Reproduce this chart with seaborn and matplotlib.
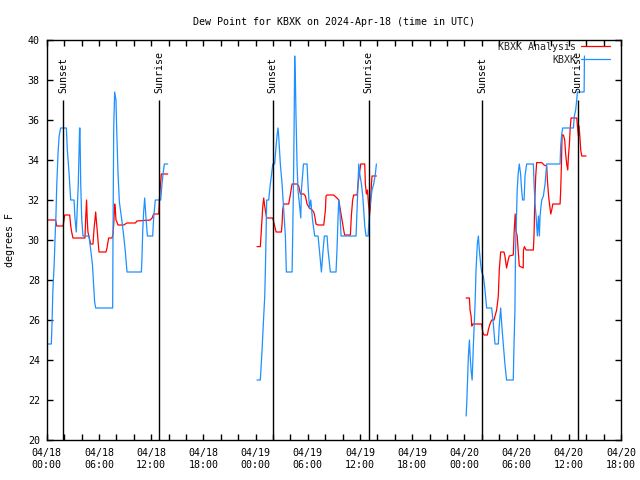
import numpy as np
import pandas as pd
import matplotlib
matplotlib.use("Agg")
import matplotlib.pyplot as plt
import matplotlib.dates as mdates
from matplotlib.lines import Line2D
import seaborn as sns

# ---------------- data (hours after 2024-04-18 00:00 UTC, values in deg F) ----------------
obs_h1 = [0.15, 0.53, 0.61, 0.71, 0.86, 0.96, 1.06, 1.16, 1.31, 1.43, 1.60, 2.26, 2.37, 2.56, 2.76,
          3.14, 3.25, 3.40, 3.63, 3.78, 3.82, 3.91, 4.02, 4.17, 4.86, 5.06, 5.25, 5.36, 5.51, 5.63,
          7.58, 7.62, 7.70, 7.81, 7.96, 8.04, 8.19, 8.35, 8.66, 8.85, 9.04, 9.23, 10.88, 10.95,
          11.03, 11.14, 11.26, 11.41, 11.57, 12.18, 12.29, 12.48, 13.10, 13.25, 13.37, 13.52, 13.91]
obs_v1 = [24.8, 24.8, 25.8, 27.5, 28.8, 30.1, 31.2, 32.8, 34.4, 35.2, 35.6, 35.6, 34.5, 33.4, 32.0,
          32.0, 31.1, 30.4, 32.8, 35.6, 35.6, 32.8, 31.1, 30.2, 30.2, 29.5, 28.8, 28.0, 26.9, 26.6,
          26.6, 30.2, 35.6, 37.4, 37.0, 35.6, 33.4, 31.9, 30.9, 30.2, 29.4, 28.4, 28.4, 29.1,
          30.4, 31.4, 32.1, 31.1, 30.2, 30.2, 31.1, 32.0, 32.0, 32.8, 33.3, 33.8, 33.8]

obs_h2 = [24.17, 24.55, 24.75, 24.94, 25.06, 25.13, 25.21, 25.28, 25.51, 25.70, 25.82, 25.98, 26.20,
          26.36, 26.47, 26.58, 26.66, 26.85, 27.05, 27.31, 27.43, 27.54, 28.20, 28.27, 28.35, 28.43,
          28.50, 28.58, 28.65, 28.77, 28.88, 29.20, 29.27, 29.51, 29.92, 30.05, 30.20, 30.35, 30.55,
          30.80, 31.18, 31.34, 31.57, 31.76, 31.91, 32.22, 32.33, 32.60, 33.25, 33.36, 33.49, 33.56,
          33.68, 33.83, 35.55, 35.71, 35.86, 35.98, 36.17, 36.32, 36.43, 36.55, 36.70, 36.94, 37.09,
          37.24, 37.39, 37.58, 37.77, 37.89]
obs_v2 = [23.0, 23.0, 24.5, 26.2, 27.2, 28.5, 30.2, 32.0, 32.0, 32.8, 33.2, 33.8, 33.8,
          34.7, 35.2, 35.6, 35.2, 33.8, 32.8, 31.0, 30.2, 28.4, 28.4, 30.2, 32.5, 35.5,
          39.2, 38.0, 36.2, 33.8, 32.5, 31.1, 32.5, 33.8, 33.8, 32.6, 31.6, 32.0, 31.0,
          30.2, 30.2, 29.5, 28.4, 29.5, 30.2, 30.2, 29.5, 28.4, 28.4, 29.5, 31.2, 32.0,
          31.5, 30.2, 30.2, 32.0, 33.8, 33.3, 32.8, 32.2, 31.5, 30.7, 30.2, 30.2, 31.5,
          32.0, 32.5, 32.8, 33.3, 33.8]

obs_h3 = [48.20, 48.27, 48.35, 48.46, 48.58, 48.65, 48.77, 48.89, 48.96, 49.04, 49.23, 49.34, 49.49,
          49.61, 49.72, 49.87, 49.99, 50.18, 50.37, 50.56, 51.14, 51.33, 51.52, 51.90, 52.01, 52.17,
          52.29, 52.47, 52.66, 52.85, 53.62, 53.69, 53.81, 53.88, 53.99, 54.07, 54.18, 54.31, 54.46,
          54.58, 54.69, 54.86, 54.97, 55.16, 55.93, 56.01, 56.12, 56.24, 56.39, 56.51, 56.62, 56.70,
          56.81, 56.89, 57.08, 57.27, 57.46, 59.00, 59.07, 59.19, 59.30, 60.53, 60.64, 60.79, 60.91,
          60.99, 61.76, 61.80]
obs_v3 = [21.2, 21.8, 22.8, 24.2, 25.0, 24.3, 23.5, 23.0, 23.8, 24.8, 26.8, 28.5, 29.8,
          30.2, 29.5, 28.8, 28.4, 28.2, 27.5, 26.6, 26.6, 25.8, 24.8, 24.8, 25.7, 26.6,
          25.8, 24.8, 23.8, 23.0, 23.0, 24.5, 26.5, 29.5, 31.2, 32.5, 33.3, 33.8, 33.3,
          32.5, 32.0, 32.0, 33.2, 33.8, 33.8, 32.8, 31.8, 31.2, 30.2, 31.2, 30.2, 31.2,
          31.7, 32.0, 32.2, 32.8, 33.8, 33.8, 34.7, 35.3, 35.6, 35.6, 36.2, 36.5, 37.0,
          37.4, 37.4, 39.2]

ana_h1 = [0.15, 1.03, 1.15, 1.88, 1.99, 2.07, 2.64, 2.76, 2.87, 3.02, 4.40, 4.47, 4.58, 4.66, 4.74,
          5.05, 5.32, 5.43, 5.63, 5.70, 5.82, 5.93, 6.01, 6.81, 6.93, 7.12, 7.51, 7.62, 7.73, 7.81,
          7.88, 7.96, 8.07, 8.19, 8.85, 9.04, 9.23, 10.19, 10.37, 11.91, 12.11, 12.29, 12.87, 12.95,
          13.06, 13.18, 13.91]
ana_v1 = [31.0, 31.0, 30.7, 30.7, 31.0, 31.25, 31.25, 30.7, 30.4, 30.1, 30.1, 31.0, 32.0, 31.0, 30.4,
          29.8, 29.8, 30.5, 31.4, 31.0, 30.4, 29.8, 29.4, 29.4, 29.6, 30.1, 30.1, 30.3, 31.0, 31.8,
          31.6, 31.0, 30.9, 30.75, 30.75, 30.8, 30.85, 30.85, 30.95, 31.0, 31.1, 31.3, 31.3, 32.0,
          32.7, 33.3, 33.3]

ana_h2 = [24.17, 24.55, 24.67, 24.83, 24.94, 25.06, 25.28, 25.98, 26.09, 26.36, 26.97, 27.05, 27.12,
          27.24, 27.81, 28.01, 28.20, 28.77, 28.96, 29.16, 29.54, 29.73, 29.92, 30.18, 30.50, 30.69,
          30.80, 30.95, 31.18, 31.84, 32.03, 32.10, 32.22, 32.98, 33.36, 33.56, 33.75, 33.94, 34.13,
          34.24, 34.90, 35.01, 35.16, 35.28, 35.67, 35.78, 35.93, 36.09, 36.55, 36.62, 36.74, 36.86,
          37.01, 37.09, 37.20, 37.32, 37.39, 37.89]
ana_v2 = [29.67, 29.67, 30.5, 31.67, 32.1, 31.67, 31.1, 31.1, 30.9, 30.4, 30.4, 30.8, 31.5,
          31.8, 31.8, 32.3, 32.8, 32.8, 32.7, 32.3, 32.3, 32.2, 31.8, 31.6, 31.5, 31.4,
          31.2, 30.8, 30.75, 30.75, 31.5, 32.2, 32.25, 32.25, 32.1, 32.0, 31.5, 31.0, 30.5,
          30.25, 30.25, 31.2, 32.0, 32.25, 32.25, 32.8, 33.3, 33.8, 33.8, 32.8, 32.3, 32.5,
          31.67, 31.2, 31.67, 32.8, 33.2, 33.2]

ana_h3 = [48.20, 48.58, 48.65, 48.77, 48.85, 48.96, 49.99, 50.11, 50.26, 50.64, 50.75, 50.94, 51.14,
          51.41, 51.52, 51.71, 51.90, 52.01, 52.17, 52.55, 52.66, 52.85, 53.04, 53.16, 53.62, 53.73,
          53.84, 53.92, 54.07, 54.18, 54.31, 54.76, 54.79, 54.90, 55.09, 55.93, 56.01, 56.08, 56.20,
          56.31, 56.89, 57.16, 57.46, 57.54, 57.66, 57.78, 57.93, 58.04, 58.16, 59.00, 59.07, 59.15,
          59.23, 59.38, 59.53, 59.64, 59.76, 59.88, 59.96, 60.07, 60.15, 60.26, 60.92, 60.99, 61.11,
          61.18, 61.30, 61.37, 61.49, 61.98]
ana_v3 = [27.1, 27.1, 26.5, 26.2, 25.7, 25.8, 25.8, 25.4, 25.25, 25.25, 25.5, 25.8, 26.0,
          26.0, 26.2, 26.5, 27.2, 28.5, 29.4, 29.4, 29.2, 28.6, 29.0, 29.2, 29.25, 30.5,
          31.3, 30.5, 30.2, 29.5, 28.7, 28.6, 29.5, 29.67, 29.5, 29.5, 30.3, 31.8, 33.2,
          33.87, 33.87, 33.75, 33.7, 33.0, 32.3, 31.8, 31.3, 31.5, 31.8, 31.8, 32.5, 33.7,
          35.25, 35.25, 35.0, 34.3, 33.8, 33.5, 34.2, 34.8, 35.5, 36.1, 36.1, 35.7, 35.2,
          35.7, 35.0, 34.5, 34.2, 34.2]

sun_hours = [1.91, 12.91, 25.97, 37.01, 50.07, 61.03]
sun_labels = ["Sunset", "Sunrise", "Sunset", "Sunrise", "Sunset", "Sunrise"]

series_names = ["KBXK Analysis", "KBXK"]
series_colors = ["#ff0000", "#1e90ff"]

title = "Dew Point for KBXK on 2024-Apr-18 (time in UTC)"
ylabel = "degrees F"

# ---------------- build table ----------------
base = pd.Timestamp("2024-04-18 00:00")
frames = []
for name, segs in [
    ("KBXK Analysis", [(ana_h1, ana_v1), (ana_h2, ana_v2), (ana_h3, ana_v3)]),
    ("KBXK", [(obs_h1, obs_v1), (obs_h2, obs_v2), (obs_h3, obs_v3)]),
]:
    for i, (h, v) in enumerate(segs):
        frames.append(pd.DataFrame({
            "time": base + pd.to_timedelta(h, unit="h"),
            "value": v,
            "series": name,
            "segment": f"{name}-{i}",
        }))
df = pd.concat(frames, ignore_index=True)

# ---------------- plot ----------------
sns.set_theme(style="white")
plt.rcParams["font.family"] = ["DejaVu Sans Mono"]
fs = 7.2

fig = plt.figure(figsize=(6.4, 4.8), dpi=100)
ax = fig.add_axes([46.7 / 640, 40 / 480, (621 - 46.7) / 640, 400 / 480])

palette = dict(zip(series_names, series_colors))
sns.lineplot(data=df, x="time", y="value", hue="series", units="segment",
             estimator=None, sort=False, palette=palette, hue_order=series_names,
             linewidth=0.9, legend=False, ax=ax)

sun_times = base + pd.to_timedelta(sun_hours, unit="h")
ax.vlines(sun_times, 20, 37, color="black", linewidth=1.0)
for t, lab in zip(sun_times, sun_labels):
    ax.text(t, 37.35, lab, rotation=90, ha="center", va="bottom", fontsize=fs, color="black")

ax.set_xlim(base, base + pd.Timedelta(hours=66))
ax.set_ylim(20, 40)
ax.set_yticks(np.arange(20, 41, 2))
ax.xaxis.set_major_locator(mdates.HourLocator(byhour=[0, 6, 12, 18]))
ax.xaxis.set_minor_locator(mdates.HourLocator(byhour=list(range(0, 24, 2))))
ax.xaxis.set_major_formatter(mdates.DateFormatter("%m/%d\n%H:%M"))

ax.tick_params(axis="both", which="both", direction="in", top=True, right=True,
               bottom=True, left=True, length=4.5, width=1, color="black",
               labelsize=fs, labelcolor="black")
ax.tick_params(axis="x", which="major", pad=6)
ax.tick_params(axis="y", which="major", pad=5)
for s in ax.spines.values():
    s.set_color("black")
    s.set_linewidth(1.0)
    s.set_visible(True)

ax.set_xlabel("")
ax.set_ylabel(ylabel, fontsize=fs, color="black")
ax.yaxis.set_label_coords((15 - 46.7) / 574.3, 0.5)
ax.set_title(title, fontsize=fs, color="black", pad=11)

handles = [Line2D([], [], color=c, linewidth=0.9) for c in series_colors]
ax.legend(handles, series_names, loc="upper right", bbox_to_anchor=(0.981, 0.995),
          frameon=False, markerfirst=False, fontsize=fs, handlelength=2.9,
          handletextpad=0.5, labelspacing=0.3, borderpad=0, borderaxespad=0)

fig.savefig("out.png", dpi=100)
